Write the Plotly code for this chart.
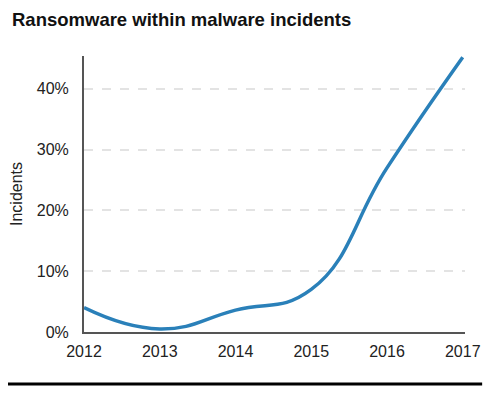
import plotly.graph_objects as go

years = [2012, 2013, 2014, 2015, 2016, 2017]
share_pct = [4.0, 0.5, 3.6, 7.0, 27.0, 45.2]
y_ticks = [0, 10, 20, 30, 40]
y_tick_labels = ["0%", "10%", "20%", "30%", "40%"]

fig = go.Figure()
fig.add_trace(go.Scatter(
    x=years, y=share_pct, mode="lines",
    line=dict(color="#2a80b9", width=3.5, shape="spline", smoothing=1.3),
    hoverinfo="skip", showlegend=False,
))

fig.update_layout(
    width=500, height=394,
    margin=dict(l=76, r=43, t=48, b=70, autoexpand=False),
    paper_bgcolor="white", plot_bgcolor="white",
    font=dict(family="Liberation Sans, Arial, sans-serif", color="#222"),
    title=dict(text="<b>Ransomware within malware incidents</b>",
               x=0.008, xanchor="left", y=0.972, yanchor="middle",
               font=dict(size=18.5, color="#111")),
    xaxis=dict(range=[2012, 2017.03], tickvals=years, ticktext=[str(y) for y in years],
               showgrid=False, zeroline=False, showline=True, linecolor="#555", linewidth=2,
               ticks="", ticklabelstandoff=4, tickfont=dict(size=16, color="#222"),
               automargin=False, fixedrange=True),
    yaxis=dict(range=[0, 45.4], tickvals=y_ticks, ticktext=y_tick_labels,
               showgrid=True, gridcolor="#e3e3e3", griddash="dash", gridwidth=1.5,
               zeroline=False, showline=True, linecolor="#555", linewidth=2,
               ticks="", ticklabelstandoff=10, tickfont=dict(size=16, color="#222"),
               automargin=False,
               title=dict(text="Incidents", font=dict(size=16, color="#222"), standoff=10)),
    shapes=[dict(type="line", xref="paper", yref="paper",
                 x0=-0.2, x1=1.045, y0=-0.188, y1=-0.188,
                 line=dict(color="black", width=3))],
)

fig.write_html("out.html")
